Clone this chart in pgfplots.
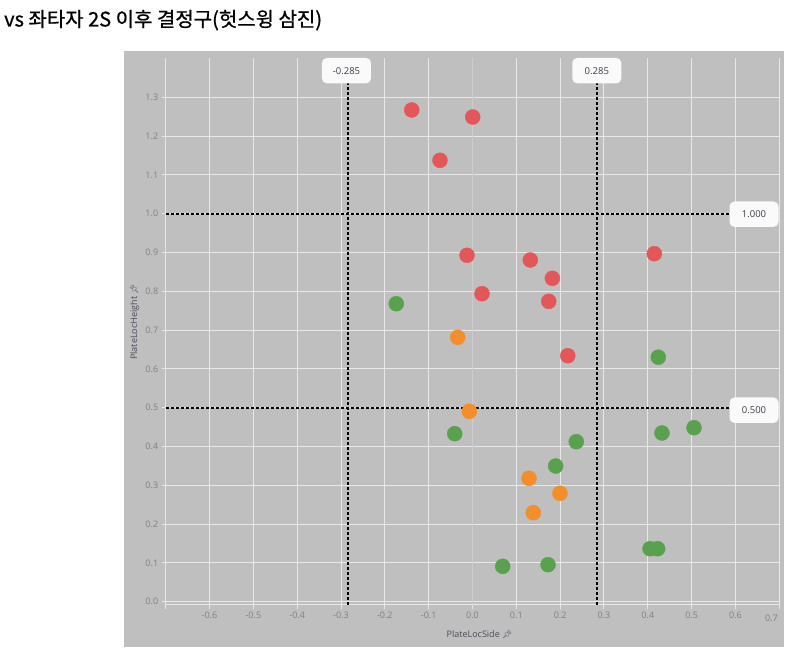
\documentclass[border=0pt]{standalone}
\usepackage{fontspec}
\usepackage{pgfplots}
\pgfplotsset{compat=1.18}
\setmainfont{Open Sans}
\newfontfamily\kr[FakeBold=0.8]{Noto Sans CJK KR}
\newfontfamily\emo{Noto Emoji}
\definecolor{panel}{RGB}{191,191,191}
\definecolor{gridc}{RGB}{232,232,232}
\definecolor{tickc}{RGB}{128,128,128}
\definecolor{labc}{RGB}{75,75,88}
\definecolor{boxc}{RGB}{250,250,250}
\definecolor{boxtext}{RGB}{60,60,70}
\definecolor{redc}{RGB}{226,87,90}
\definecolor{orangec}{RGB}{242,142,43}
\definecolor{greenc}{RGB}{89,161,79}
\definecolor{zeroc}{RGB}{205,205,205}
\begin{document}
\begin{tikzpicture}
\useasboundingbox (0pt,0pt) rectangle (797pt,656pt);
\fill[panel] (124pt,9pt) rectangle (784pt,605pt);
\node[anchor=base west, inner sep=0pt] at (4pt,629.5pt) {\kr\fontsize{20}{24}\selectfont vs 좌타자 2S 이후 결정구(헛스윙 삼진)};
\begin{axis}[
  at={(165.7pt,51.3pt)}, anchor=south west,
  scale only axis, width=613.6pt, height=546.4pt,
  xmin=-0.7, xmax=0.7, ymin=-0.0077, ymax=1.4005,
  xtick={-0.7,-0.6,-0.5,-0.4,-0.3,-0.2,-0.1,0,0.1,0.2,0.3,0.4,0.5,0.6,0.7},
  xticklabels={,-0.6,-0.5,-0.4,-0.3,-0.2,-0.1,0.0,0.1,0.2,0.3,0.4,0.5,0.6,},
  ytick={0,0.1,0.2,0.3,0.4,0.5,0.6,0.7,0.8,0.9,1.0,1.1,1.2,1.3},
  yticklabels={0.0,0.1,0.2,0.3,0.4,0.5,0.6,0.7,0.8,0.9,1.0,1.1,1.2,1.3},
  axis x line*=bottom, axis y line*=left,
  axis line style={draw=gridc, line width=1pt, -},
  grid=major, major grid style={draw=gridc, line width=1pt},
  tick style={draw=gridc, line width=1pt}, tick align=outside, major tick length=4pt,
  ticklabel style={font=\fontsize{9}{10}\selectfont, text=tickc},
  clip=false,
]
\draw[zeroc, line width=0.5pt] (axis cs:0,-0.0077) -- (axis cs:0,1.4005);
\addplot[only marks, mark=*, color=redc, mark size=7.5pt] coordinates {
(-0.1387,1.2673) (0.0005,1.2492) (-0.0742,1.1376) (-0.0125,0.8928) (0.1319,0.8807)
(0.1821,0.8335) (0.0217,0.7938) (0.1739,0.7742) (0.2174,0.6340) (0.4148,0.8969)
};
\addplot[only marks, mark=*, color=orangec, mark size=7.5pt] coordinates {
(-0.0338,0.6814) (-0.0073,0.4907) (0.1289,0.3180) (0.1996,0.2794) (0.1387,0.2294)
};
\addplot[only marks, mark=*, color=greenc, mark size=7.5pt] coordinates {
(-0.1739,0.7680) (-0.0406,0.4330) (0.2368,0.4124) (0.1898,0.3497) (0.4239,0.6302)
(0.4323,0.4348) (0.5054,0.4485) (0.4050,0.1366) (0.4225,0.1366) (0.0689,0.0912) (0.1723,0.0954)
};
\draw[black, line width=2pt, dash pattern=on 3pt off 2pt] (axis cs:-0.285,-0.0077) -- (axis cs:-0.285,1.3369);
\draw[black, line width=2pt, dash pattern=on 3pt off 2pt] (axis cs:0.285,-0.0077) -- (axis cs:0.285,1.3369);
\draw[black, line width=2pt, dash pattern=on 3pt off 2pt] (axis cs:-0.7,1) -- (axis cs:0.5875,1);
\draw[black, line width=2pt, dash pattern=on 3pt off 2pt] (axis cs:-0.7,0.5) -- (axis cs:0.5875,0.5);
\tikzset{refbox/.style={fill=boxc, rounded corners=5pt, minimum width=49pt, minimum height=25.5pt, inner sep=0pt, font=\fontsize{9.5}{10}\selectfont, text=boxtext}}
\node[refbox] at (axis cs:-0.2875,1.3686) {-0.285};
\node[refbox] at (axis cs:0.2836,1.3686) {0.285};
\node[refbox] at (axis cs:0.6423,0.9987) {1.000};
\node[refbox] at (axis cs:0.6423,0.4936) {0.500};
\node[font=\fontsize{9}{10}\selectfont, text=tickc] at (axis cs:0.682,-0.0077) [anchor=north, yshift=-7pt] {0.7};
\end{axis}
\node[font=\fontsize{9}{10}\selectfont, text=labc] at (479.5pt,21pt) {PlateLocSide {\emo\fontsize{8}{9}\selectfont 📌}};
\node[font=\fontsize{9}{10}\selectfont, text=labc, rotate=90] at (134.7pt,334pt) {PlateLocHeight {\emo\fontsize{8}{9}\selectfont 📌}};
\end{tikzpicture}
\end{document}
